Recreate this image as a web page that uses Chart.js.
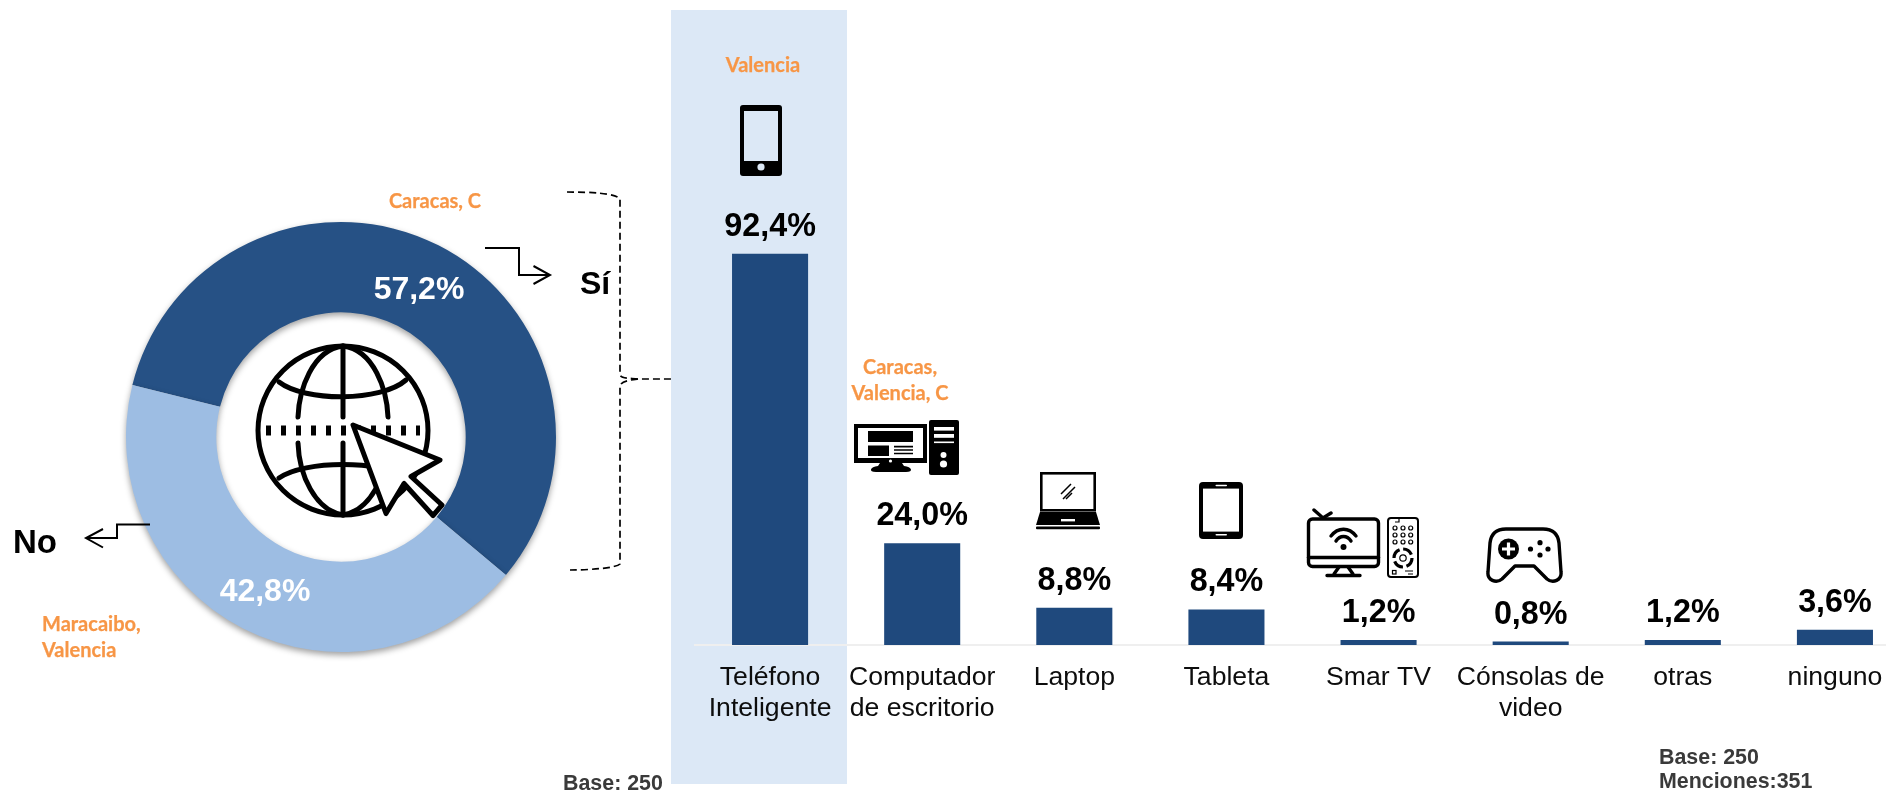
<!DOCTYPE html>
<html><head><meta charset="utf-8">
<script src="https://cdn.jsdelivr.net/npm/chart.js@4"></script>
<style>
html,body{margin:0;padding:0;width:1886px;height:794px;overflow:hidden;background:#fff}
#stage{position:relative;width:1886px;height:794px;overflow:hidden;font-family:"Liberation Sans",Arial,sans-serif}
#stage canvas{position:absolute}
#hl{position:absolute;left:671px;top:10px;width:176px;height:774px;background:#DCE8F6}
#overlay{position:absolute;left:0;top:0}
.t{position:absolute;white-space:nowrap;line-height:1;transform:translate(-50%,-50%)}
.o{font-family:Lato,sans-serif;font-weight:700;color:#F79646;font-size:20px;-webkit-text-stroke:.25px #F79646}
.b{font-weight:700;color:#000}
.n{font-weight:700;color:#3a3a3a;font-size:21.4px}
.w{font-weight:700;color:#fff;font-size:32px}
</style></head><body>
<div id="stage">
<div id="hl"></div>
<canvas id="donut" width="470" height="470" style="left:106px;top:202px;width:470px;height:470px"></canvas>
<canvas id="bars" width="1217" height="794" style="left:694px;top:0;width:1217px;height:794px"></canvas>
<svg id="overlay" width="1886" height="794" viewBox="0 0 1886 794" xmlns="http://www.w3.org/2000/svg">
  <!-- arrows and bracket -->
  <g fill="none" stroke="#000" stroke-width="2">
    <path d="M485 248H519V275H549"/><path d="M533.5 266L550 275L533.5 284"/>
    <path d="M150 524.5H117V538H87"/><path d="M103 529L86 538L103 547.5"/>
    <g stroke-width="1.7" stroke-dasharray="7 4">
      <path d="M567 192C590 192 615 193 620 199V374C620 379 630 378 638 379H671"/>
      <path d="M638 379C630 380 620 381 620 387V564C616 568 590 570 570 570"/>
    </g>
  </g>
  <!-- globe with cursor -->
  <g fill="none" stroke="#000" stroke-width="5" stroke-linecap="round">
    <ellipse cx="343" cy="430.5" rx="85" ry="84.5"/>
    <path d="M343 346V417M343 443V515"/>
    <path d="M343 346C312 350 299 390 298 417M343 346C374 350 387 390 388 417"/>
    <path d="M298 443C299 475 315 510 343 515M388 443C387 475 371 510 343 515"/>
    <path d="M279 382C305 402 381 402 406 380M279 478C305 460 381 460 406 478"/>
    <path d="M266 430.5H420" stroke-width="10" stroke-linecap="butt" stroke-dasharray="5 10"/>
    <path d="M353 425L440 460L411 476.5L442 505L433 515.5L404 483.5L386 513.5Z" fill="#fff" stroke-linejoin="round"/>
  </g>
  <!-- phone -->
  <rect x="740" y="105" width="42" height="71" rx="3"/>
  <rect x="744" y="111" width="34" height="50" fill="#DCE8F6"/>
  <circle cx="761" cy="167" r="3.6" fill="#DCE8F6"/>
  <!-- desktop -->
  <rect x="854" y="424" width="73" height="39"/>
  <rect x="858" y="428" width="65" height="30" fill="#fff"/>
  <rect x="868" y="431" width="45" height="11"/>
  <rect x="868" y="445.5" width="21" height="10.5"/>
  <path d="M894 446.6H913M894 450H913M894 453.5H913" stroke="#000" stroke-width="1.6"/>
  <circle cx="890.5" cy="461" r="1.6" fill="#fff"/>
  <path d="M880 463H902L904 466C912 467 914 472 906 472H876C868 472 870 467 878 466Z"/>
  <rect x="929" y="420" width="30" height="55" rx="2"/>
  <rect x="934" y="427" width="20" height="3.6" fill="#fff"/>
  <rect x="934" y="434" width="20" height="3.8" fill="#fff"/>
  <rect x="934" y="441.5" width="20" height="1.6" fill="#fff"/>
  <circle cx="943.5" cy="455" r="3" fill="#fff"/><circle cx="943.5" cy="464" r="3.6" fill="#fff"/>
  <!-- laptop -->
  <rect x="1041.3" y="473.3" width="53.4" height="37" fill="none" stroke="#000" stroke-width="2.6"/>
  <path d="M1061 494L1071 484M1063 499L1075 487M1066 499L1072 493" stroke="#000" stroke-width="1.5"/>
  <path d="M1040 512H1096L1100 525H1036Z"/>
  <rect x="1036" y="526.5" width="64" height="2.8" rx="1"/>
  <rect x="1061" y="519" width="14" height="2.4" fill="#fff"/>
  <!-- tablet -->
  <rect x="1199" y="482" width="44" height="57" rx="4"/>
  <rect x="1203" y="488.6" width="36" height="43" fill="#fff"/>
  <rect x="1215.5" y="484.7" width="11.5" height="1.6" rx=".8" fill="#fff"/>
  <rect x="1215.5" y="534" width="11.5" height="1.6" rx=".8" fill="#fff"/>
  <!-- smart tv -->
  <g fill="none" stroke="#000" stroke-width="3.4" stroke-linecap="round">
    <rect x="1308.5" y="519" width="70" height="47.5" rx="4"/>
    <path d="M1308.5 557.5H1378.5"/>
    <path d="M1314 510L1323 518L1331 513"/>
    <path d="M1339 567L1334 574M1348 567L1353 574M1327 575.5H1360"/>
    <path d="M1331 536C1338 527 1349 527 1356 536M1336 541C1340 535 1347 535 1351 541"/>
  </g>
  <circle cx="1343.5" cy="547" r="3"/>
  <g fill="none" stroke="#000">
    <rect x="1388" y="518" width="30" height="59" rx="3" stroke-width="2"/>
    <g stroke-width="1.2">
      <circle cx="1395" cy="528" r="2"/><circle cx="1403" cy="528" r="2"/><circle cx="1410.7" cy="528" r="2"/>
      <circle cx="1395" cy="535" r="2"/><circle cx="1403" cy="535" r="2"/><circle cx="1410.7" cy="535" r="2"/>
      <circle cx="1395" cy="542" r="2"/><circle cx="1403" cy="542" r="2"/><circle cx="1410.7" cy="542" r="2"/>
      <circle cx="1403" cy="558" r="3.2"/>
      <rect x="1392.5" y="570.5" width="3.5" height="3.5"/>
      <path d="M1405 571H1413M1408 574H1413M1399 517.5V522H1395"/>
    </g>
    <circle cx="1403" cy="558" r="9" stroke-width="3.2" stroke-dasharray="10.5 3.6"/>
  </g>
  <!-- gamepad -->
  <path d="M1506 529H1543C1553 529 1558 534 1559 543L1561 572C1562 580 1553 584 1547 579L1534 566H1515L1502 579C1496 584 1487 580 1488 572L1490 543C1491 534 1496 529 1506 529Z" fill="none" stroke="#000" stroke-width="3.4" stroke-linejoin="round"/>
  <circle cx="1508.5" cy="549" r="10.5"/>
  <path d="M1502 549H1515M1508.5 542.5V555.5" stroke="#fff" stroke-width="3.2"/>
  <circle cx="1540" cy="542.7" r="2.6"/><circle cx="1530.5" cy="549" r="2.6"/><circle cx="1548" cy="549" r="2.6"/><circle cx="1540" cy="555" r="2.6"/>
</svg>
<div class="t w" id="d0" style="left:419px;top:288px"></div>
<div class="t w" id="d1" style="left:265px;top:590px"></div>
<div class="t b" style="left:595px;top:283px;font-size:32px">Sí</div>
<div class="t b" style="left:35px;top:541px;font-size:33px">No</div>
<div class="t o" style="left:435px;top:200px">Caracas, C</div>
<div class="t o" style="left:42px;top:623px;transform:translate(0,-50%)">Maracaibo,</div>
<div class="t o" style="left:42px;top:649px;transform:translate(0,-50%)">Valencia</div>
<div class="t o" style="left:763px;top:64px">Valencia</div>
<div class="t o" style="left:900px;top:366px">Caracas,</div>
<div class="t o" style="left:900px;top:392px">Valencia, C</div>
<div class="t n" style="left:563px;top:784px;transform:translate(0,-50%)">Base: 250</div>
<div class="t n" style="left:1659px;top:758px;transform:translate(0,-50%)">Base: 250</div>
<div class="t n" style="left:1659px;top:782px;transform:translate(0,-50%)">Menciones:351</div>
</div>
<script>
const donutLabels = ['Sí', 'No'];
const donutValues = [57.2, 42.8];
const donutColors = ['#265185', '#9DBDE3'];
const categories = [['Teléfono','Inteligente'],['Computador','de escritorio'],'Laptop','Tableta','Smar TV',['Cónsolas de','video'],'otras','ninguno'];
const barValues = [92.4, 24.0, 8.8, 8.4, 1.2, 0.8, 1.2, 3.6];
const fmt = v => v.toFixed(1).replace('.', ',') + '%';

Chart.defaults.animation = false;
Chart.defaults.devicePixelRatio = 1;

donutValues.forEach((v, i) => { document.getElementById('d' + i).textContent = fmt(v); });

new Chart(document.getElementById('donut'), {
  type: 'doughnut',
  data: { labels: donutLabels, datasets: [{ data: donutValues, backgroundColor: donutColors, borderWidth: 0 }] },
  options: {
    responsive: false, cutout: '58%', rotation: -76,
    layout: { padding: 20 },
    plugins: { legend: { display: false }, tooltip: { enabled: false } }
  },
  plugins: [{
    id: 'softShadow',
    beforeDatasetsDraw(c) { const x = c.ctx; x.save(); x.shadowColor = 'rgba(0,0,0,.38)'; x.shadowBlur = 6; x.shadowOffsetY = 3; },
    afterDatasetsDraw(c) { c.ctx.restore(); }
  }]
});

new Chart(document.getElementById('bars'), {
  type: 'bar',
  data: { labels: categories, datasets: [{ data: barValues, backgroundColor: '#1F497D', barPercentage: 0.5, categoryPercentage: 1 }] },
  options: {
    responsive: false,
    layout: { padding: { top: 221.5, left: 0, right: 0, bottom: 0 } },
    plugins: { legend: { display: false }, tooltip: { enabled: false } },
    scales: {
      y: { display: false, min: 0, max: 100 },
      x: {
        afterFit(s) { s.height = 149; s.paddingLeft = 0; s.paddingRight = 0; },
        border: { display: true, color: '#EFEFEF', width: 2 },
        grid: { display: true, drawOnChartArea: false, drawTicks: false, color: 'rgba(0,0,0,0)' },
        ticks: { autoSkip: false, maxRotation: 0, minRotation: 0, padding: 17, color: '#0d0d0d',
          font: { family: '"Liberation Sans"', size: 26.6, lineHeight: 1.17 } }
      }
    }
  },
  plugins: [{
    id: 'valueLabels',
    afterDatasetsDraw(c) {
      const x = c.ctx; x.save();
      x.font = 'bold 32.3px "Liberation Sans"'; x.fillStyle = '#000'; x.textAlign = 'center'; x.textBaseline = 'middle';
      c.getDatasetMeta(0).data.forEach((b, i) => x.fillText(fmt(barValues[i]), b.x, b.y - 27));
      x.restore();
    }
  }]
});
</script>
</body></html>
